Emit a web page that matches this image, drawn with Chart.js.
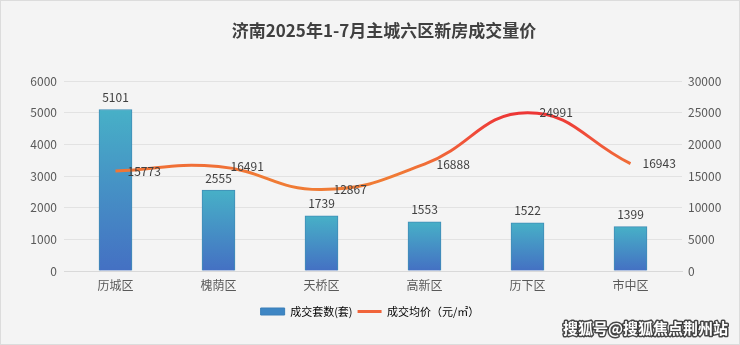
<!DOCTYPE html>
<html>
<head>
<meta charset="utf-8">
<script src="https://cdn.jsdelivr.net/npm/chart.js@4/dist/chart.umd.min.js"></script>
<style>
  html, body { margin: 0; padding: 0; background: #ffffff; }
  #wrap { position: relative; width: 738px; height: 343px; border: 1px solid #dcdcdc; background: #f4f4f4; }
  canvas { display: block; }
</style>
</head>
<body>
<div id="wrap"><canvas id="c" width="738" height="343"></canvas></div>
<script>
const chartTitle = '济南2025年1-7月主城六区新房成交量价';
const districts = ['历城区', '槐荫区', '天桥区', '高新区', '历下区', '市中区'];
const unitsSold = [5101, 2555, 1739, 1553, 1522, 1399];
const avgPrice = [15773, 16491, 12867, 16888, 24991, 16943];
const leftTicks = [0, 1000, 2000, 3000, 4000, 5000, 6000];
const rightTicks = [0, 5000, 10000, 15000, 20000, 25000, 30000];

const FONT = '"Microsoft YaHei", "Noto Sans CJK SC", "Noto Sans", sans-serif';

// Per-bar vertical gradient: teal at the bar top, blue at its base
function barGradient(ctx) {
  const chart = ctx.chart;
  const y = chart.scales.y;
  if (!y || ctx.type !== 'data' || y.bottom === undefined) return '#4a9fc8';
  const top = y.getPixelForValue(ctx.raw);
  const bottom = y.getPixelForValue(0);
  if (!isFinite(top) || !isFinite(bottom) || top === bottom) return '#4a9fc8';
  const g = chart.ctx.createLinearGradient(0, top, 0, bottom);
  g.addColorStop(0, '#47b0c7');
  g.addColorStop(1, '#4470c3');
  return g;
}

// Price line shifts from orange to red toward the top of the plot
function lineGradient(ctx) {
  const chart = ctx.chart;
  const y1 = chart.scales.y1;
  if (!y1 || y1.bottom === undefined) return '#ed7d31';
  const g = chart.ctx.createLinearGradient(0, y1.getPixelForValue(26000), 0, y1.getPixelForValue(15000));
  g.addColorStop(0, '#ec2f34');
  g.addColorStop(0.45, '#f0503a');
  g.addColorStop(1, '#f07b35');
  return g;
}

const valueLabels = {
  id: 'valueLabels',
  afterDatasetsDraw(chart) {
    const ctx = chart.ctx;
    ctx.save();
    ctx.font = '12px ' + FONT;
    ctx.fillStyle = '#404040';
    const bars = chart.getDatasetMeta(0).data;
    ctx.textAlign = 'center';
    ctx.textBaseline = 'bottom';
    bars.forEach((b, i) => ctx.fillText(String(unitsSold[i]), b.x, b.y - 6));
    const pts = chart.getDatasetMeta(1).data;
    ctx.textAlign = 'left';
    ctx.textBaseline = 'middle';
    pts.forEach((p, i) => ctx.fillText(String(avgPrice[i]), p.x + 12, p.y));
    ctx.restore();
  }
};

// Heading and source mark
const headings = {
  id: 'headings',
  afterDraw(chart) {
    const ctx = chart.ctx;
    ctx.save();
    ctx.font = 'bold 17px ' + FONT;
    ctx.fillStyle = '#404040';
    ctx.textAlign = 'center';
    ctx.textBaseline = 'middle';
    ctx.fillText(chartTitle, 383, 30);

    ctx.font = 'bold 15px ' + FONT;
    ctx.textAlign = 'right';
    ctx.lineJoin = 'round';
    ctx.lineWidth = 3;
    ctx.strokeStyle = 'rgba(40,40,40,0.85)';
    ctx.strokeText('搜狐号@搜狐焦点荆州站', 727, 327);
    ctx.fillStyle = '#ffffff';
    ctx.fillText('搜狐号@搜狐焦点荆州站', 727, 327);
    ctx.restore();
  }
};

const plain = v => String(v);

new Chart(document.getElementById('c'), {
  data: {
    labels: districts,
    datasets: [
      {
        type: 'bar',
        label: '成交套数(套)',
        data: unitsSold,
        yAxisID: 'y',
        backgroundColor: barGradient,
        borderColor: '#3f8db6',
        borderWidth: 1,
        barThickness: 33,
        order: 2
      },
      {
        type: 'line',
        label: '成交均价（元/㎡）',
        data: avgPrice,
        yAxisID: 'y1',
        borderColor: lineGradient,
        borderWidth: 3,
        tension: 0.45,
        pointRadius: 0,
        pointHoverRadius: 0,
        fill: false,
        order: 1
      }
    ]
  },
  options: {
    responsive: false,
    animation: false,
    events: [],
    layout: { padding: { left: 0, right: 0, top: 80, bottom: 17 } },
    scales: {
      x: {
        grid: { display: false, drawTicks: false },
        border: { display: true, color: '#d9d9d9' },
        ticks: { color: '#595959', font: { size: 12, family: FONT }, padding: 7 },
        afterFit(s) { s.height = 30; }
      },
      y: {
        position: 'left',
        min: 0, max: 6000,
        afterBuildTicks(s) { s.ticks = leftTicks.map(v => ({ value: v })); },
        grid: { color: '#e2e2e2', drawTicks: false },
        border: { display: false },
        ticks: { color: '#595959', font: { size: 12, family: FONT }, padding: 7, callback: plain },
        afterFit(s) { s.width = 63; }
      },
      y1: {
        position: 'right',
        min: 0, max: 30000,
        afterBuildTicks(s) { s.ticks = rightTicks.map(v => ({ value: v })); },
        grid: { display: false, drawTicks: false },
        border: { display: false },
        ticks: { color: '#595959', font: { size: 12, family: FONT }, padding: 6, callback: plain },
        afterFit(s) { s.width = 57; }
      }
    },
    plugins: {
      title: { display: false },
      legend: {
        position: 'bottom',
        labels: {
          color: '#595959',
          font: { size: 11, family: FONT },
          usePointStyle: true,
          pointStyleWidth: 24,
          boxHeight: 7,
          padding: 5,
          generateLabels(chart) {
            return [
              { text: '成交套数(套)', pointStyle: 'rect', fillStyle: '#3e86c4', strokeStyle: '#3a7fb8', lineWidth: 1, datasetIndex: 0 },
              { text: '成交均价（元/㎡）', pointStyle: 'line', fillStyle: '#f0643a', strokeStyle: '#f0643a', lineWidth: 3, datasetIndex: 1 }
            ];
          }
        }
      },
      tooltip: { enabled: false }
    }
  },
  plugins: [valueLabels, headings]
});
</script>
</body>
</html>
